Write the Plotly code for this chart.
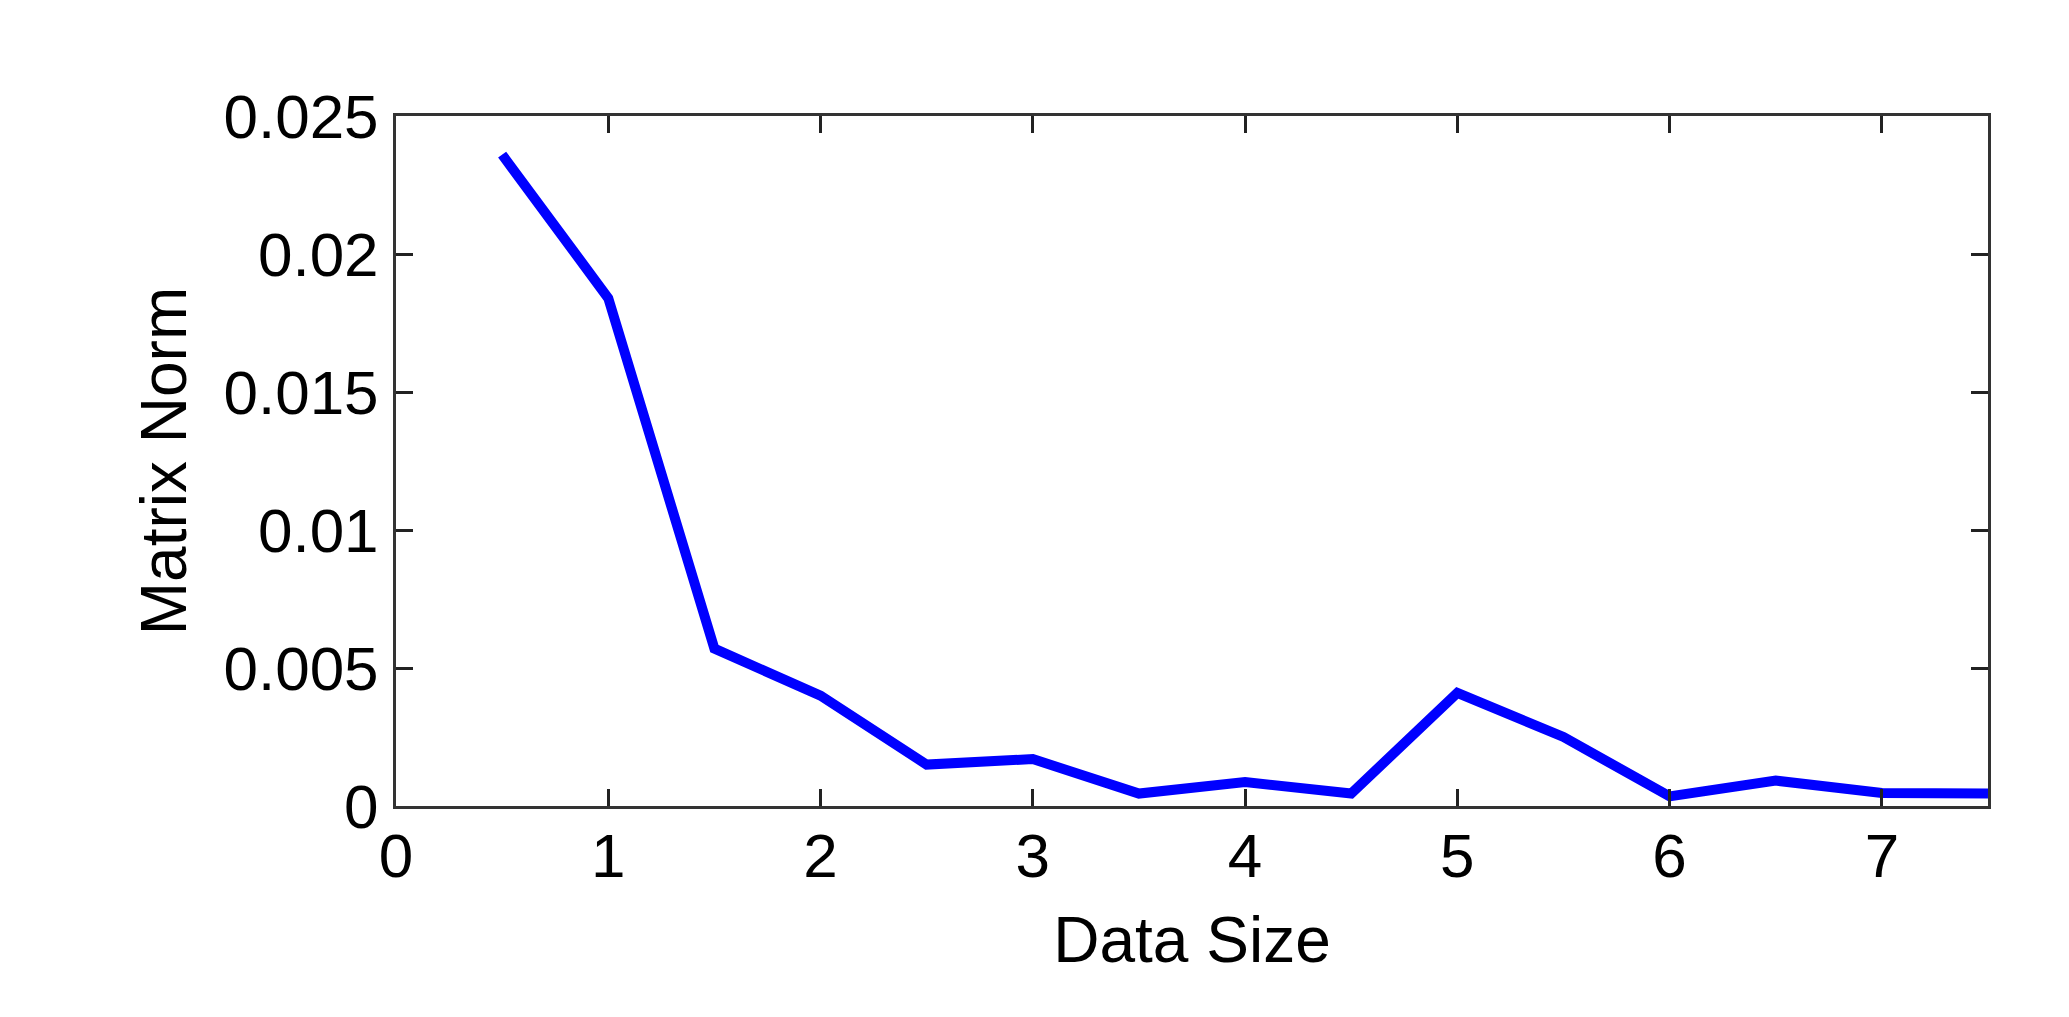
import plotly.graph_objects as go

data_size = [0.5, 1.0, 1.5, 2.0, 2.5, 3.0, 3.5, 4.0, 4.5, 5.0, 5.5, 6.0, 6.5, 7.0, 7.5]
matrix_norm = [0.0236, 0.0184, 0.0057, 0.0040, 0.0015, 0.0017, 0.00045, 0.00087, 0.00045,
               0.0041, 0.0025, 0.00035, 0.00092, 0.00047, 0.00045]

x_ticks = [0, 1, 2, 3, 4, 5, 6, 7]
y_ticks = [0, 0.005, 0.01, 0.015, 0.02, 0.025]
y_tick_labels = ["0", "0.005", "0.01", "0.015", "0.02", "0.025"]

FONT = "Liberation Sans, Arial, sans-serif"

fig = go.Figure()
fig.add_trace(go.Scatter(
    x=data_size, y=matrix_norm, mode="lines",
    line=dict(color="#0000FF", width=10),
    showlegend=False,
))

axis_common = dict(
    showline=True, linecolor="#333333", linewidth=3,
    mirror="allticks", ticks="inside", ticklen=17, tickwidth=3, tickcolor="#222222",
    showgrid=False, zeroline=False,
    tickfont=dict(family=FONT, size=62, color="black"),
)

fig.update_xaxes(
    range=[0, 7.5], tickmode="array", tickvals=x_ticks,
    title=dict(text="Data Size", font=dict(family=FONT, size=64, color="black"), standoff=28),
    ticklabelstandoff=-6,
    **axis_common,
)
fig.update_yaxes(
    range=[0, 0.025], tickmode="array", tickvals=y_ticks, ticktext=y_tick_labels,
    title=dict(text="Matrix Norm", font=dict(family=FONT, size=64, color="black"), standoff=17),
    ticklabelstandoff=2,
    **axis_common,
)

fig.update_layout(
    width=2069, height=1017,
    margin=dict(l=388, r=89, t=108, b=219),
    paper_bgcolor="white", plot_bgcolor="white",
    font=dict(family=FONT, color="black"),
)

fig.write_html("out.html")
